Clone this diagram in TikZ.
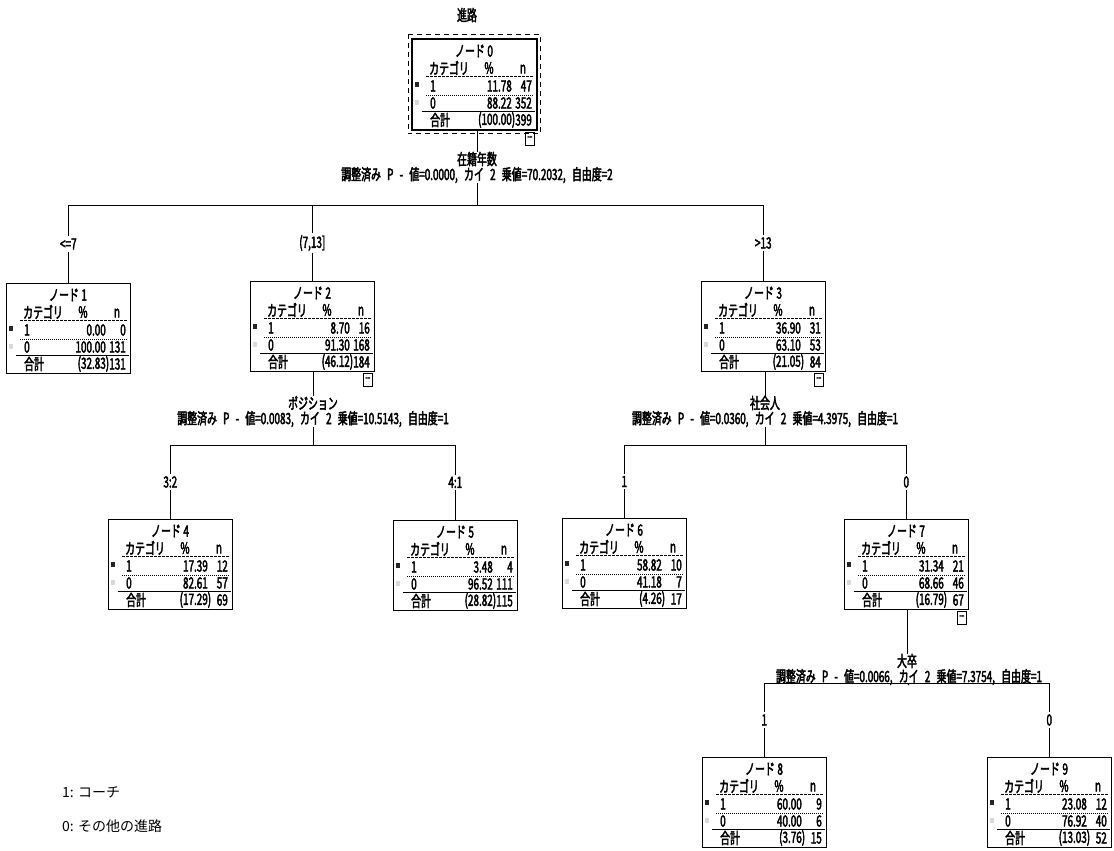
\documentclass[tikz,border=0pt]{standalone}
\usepackage{fontspec}
\usetikzlibrary{calc}
\newfontfamily\treefont[FakeStretch=0.64,FakeBold=2.5,WordSpace=2.8]{Noto Sans CJK JP}
\newfontfamily\keyfont{Noto Sans CJK JP}

% one category box: name, top left corner, node number,
% row 1 (% and n), row 0 (% and n), total (% and n)
\newcommand{\catbox}[9]{%
  \node[boxframe, anchor=north west] (#1) at (#2) {};
  \node (#1-title) at ($(#1.north west)+(62,12)$) {ノード\,#3};
  \node[anchor=west] (#1-hcat) at ($(#1.north west)+(17,29)$) {カテゴリ};
  \node (#1-hpct) at ($(#1.north west)+(77,29)$) {\%};
  \node (#1-hn) at ($(#1.north west)+(111,30)$) {n};
  \draw[headrule] ($(#1.north west)+(14,37)$) -- ($(#1.north west)+(122,37)$);
  \fill[swatchone] ($(#1.north west)+(3,43)$) rectangle ++(4,5);
  \node[anchor=west] (#1-c1) at ($(#1.north west)+(18,47)$) {1};
  \node[anchor=east] (#1-p1) at ($(#1.north west)+(100,47)$) {#4};
  \node[anchor=east] (#1-n1) at ($(#1.north west)+(120,47)$) {#5};
  \draw[rowrule] ($(#1.north west)+(14,56)$) -- ($(#1.north west)+(122,56)$);
  \fill[swatchzero] ($(#1.north west)+(3,61)$) rectangle ++(4,5);
  \node[anchor=west] (#1-c0) at ($(#1.north west)+(18,64)$) {0};
  \node[anchor=east] (#1-p0) at ($(#1.north west)+(100,64)$) {#6};
  \node[anchor=east] (#1-n0) at ($(#1.north west)+(120,64)$) {#7};
  \draw[sumrule] ($(#1.north west)+(10,72.5)$) -- ($(#1.north west)+(123,72.5)$);
  \node[anchor=west] (#1-ct) at ($(#1.north west)+(18,81)$) {合計};
  \node[anchor=east] (#1-pt) at ($(#1.north west)+(100,81)$) {(#8\rlap{)}};
  \node[anchor=east] (#1-nt) at ($(#1.north west)+(120,81)$) {#9};
}

\begin{document}
\begin{tikzpicture}[
  x=1pt,
  y=-1pt,
  every node/.style={inner sep=0pt, font=\treefont\fontsize{15.5}{16}\selectfont},
  boxframe/.style={draw, line width=0.6pt, minimum width=124pt, minimum height=90pt},
  headrule/.style={line width=0.5pt, dash pattern=on 3pt off 1pt},
  rowrule/.style={line width=0.6pt, dash pattern=on 1pt off 1pt},
  sumrule/.style={line width=0.9pt},
  swatchone/.style={fill=black!85},
  swatchzero/.style={fill=black!15},
  edge/.style={line width=0.7pt},
  elabel/.style={fill=white, inner ysep=2pt},
  foldmark/.style={draw, line width=0.5pt, minimum width=9pt, minimum height=13pt,
                   font=\treefont\fontsize{11}{11}\selectfont},
  statline/.style={font=\treefont\fontsize{15.5}{16}\selectfont},
  keyline/.style={font=\keyfont\fontsize{14}{15}\selectfont, anchor=west}
]
  \useasboundingbox (0,0) rectangle (1114,851);

  % ---- root -------------------------------------------------------------
  \node (target) at (467,15) {進路};
  \catbox{n0}{412,39}{0}{11.78}{47}{88.22}{352}{100.00}{399}
  \draw[line width=2.2pt] (n0.north west) rectangle (n0.south east);
  \draw[line width=0.6pt, dash pattern=on 5pt off 4pt]
    ($(n0.north west)+(-4,-5)$) rectangle ($(n0.south east)+(4,4)$);
  \node[foldmark, anchor=north east] (n0-fold) at ($(n0.south east)+(-2,2)$) {--};

  % ---- first level: 在籍年数 --------------------------------------------
  \node (v0) at (477,159) {在籍年数};
  \node[statline] (s0) at (477,175)
    {調整済み P - 値=0.0000, カイ 2 乗値=70.2032, 自由度=2};
  \coordinate (b0) at (477,205);

  \catbox{n1}{6,283}{1}{0.00}{0}{100.00}{131}{32.83}{131}
  \catbox{n2}{250,281}{2}{8.70}{16}{91.30}{168}{46.12}{184}
  \catbox{n3}{701,281}{3}{36.90}{31}{63.10}{53}{21.05}{84}
  \node[foldmark, anchor=north east] (n2-fold) at ($(n2.south east)+(-2,1)$) {--};
  \node[foldmark, anchor=north east] (n3-fold) at ($(n3.south east)+(-2,1)$) {--};

  \draw[edge] (v0.north |- n0.south) -- (v0.north);
  \draw[edge] (s0.south) -- (b0);
  \draw[edge] (n1.north |- b0) -- (n3.north |- b0);
  \draw[edge] (n1.north |- b0) -- node[elabel] (e1) {<=7} (n1.north);
  \draw[edge] (n2.north |- b0) -- node[elabel] (e2) {(7,13]} (n2.north);
  \draw[edge] (n3.north |- b0) -- node[elabel] (e3) {>13} (n3.north);

  % ---- node 2: ポジション ------------------------------------------------
  \node (v2) at (313,403) {ポジション};
  \node[statline] (s2) at (313,419)
    {調整済み P - 値=0.0083, カイ 2 乗値=10.5143, 自由度=1};
  \coordinate (b2) at (313,445);

  \catbox{n4}{108,519}{4}{17.39}{12}{82.61}{57}{17.29}{69}
  \catbox{n5}{393,520}{5}{3.48}{4}{96.52}{111}{28.82}{115}

  \draw[edge] (v2.north |- n2.south) -- (v2.north);
  \draw[edge] (s2.south) -- (b2);
  \draw[edge] (n4.north |- b2) -- (n5.north |- b2);
  \draw[edge] (n4.north |- b2) -- node[elabel] (e4) {3:2} (n4.north);
  \draw[edge] (n5.north |- b2) -- node[elabel] (e5) {4:1} (n5.north);

  % ---- node 3: 社会人 ----------------------------------------------------
  \node (v3) at (765,403) {社会人};
  \node[statline] (s3) at (765,419)
    {調整済み P - 値=0.0360, カイ 2 乗値=4.3975, 自由度=1};
  \coordinate (b3) at (765,445);

  \catbox{n6}{562,518}{6}{58.82}{10}{41.18}{7}{4.26}{17}
  \catbox{n7}{844,519}{7}{31.34}{21}{68.66}{46}{16.79}{67}
  \node[foldmark, anchor=north east] (n7-fold) at ($(n7.south east)+(-2,1)$) {--};

  \draw[edge] (v3.north |- n3.south) -- (v3.north);
  \draw[edge] (s3.south) -- (b3);
  \draw[edge] (n6.north |- b3) -- (n7.north |- b3);
  \draw[edge] (n6.north |- b3) -- node[elabel] (e6) {1} (n6.north);
  \draw[edge] (n7.north |- b3) -- node[elabel] (e7) {0} (n7.north);

  % ---- node 7: 大卒 ------------------------------------------------------
  \node (v7) at (907,661) {大卒};
  \node[statline] (s7) at (909,677)
    {調整済み P - 値=0.0066, カイ 2 乗値=7.3754, 自由度=1};
  \coordinate (b7) at (907,683);

  \catbox{n8}{702,757}{8}{60.00}{9}{40.00}{6}{3.76}{15}
  \catbox{n9}{987,757}{9}{23.08}{12}{76.92}{40}{13.03}{52}

  \draw[edge] (v7.north |- n7.south) -- (v7.north);
  \draw[edge] (s7.south) -- (b7);
  \draw[edge] (n8.north |- b7) -- (n9.north |- b7);
  \draw[edge] (n8.north |- b7) -- node[elabel] (e8) {1} (n8.north);
  \draw[edge] (n9.north |- b7) -- node[elabel] (e9) {0} (n9.north);

  % ---- key, bottom left --------------------------------------------------
  \node[keyline] (key1) at (62,792) {1: コーチ};
  \node[keyline] (key0) at (62,826) {0: その他の進路};
\end{tikzpicture}
\end{document}
